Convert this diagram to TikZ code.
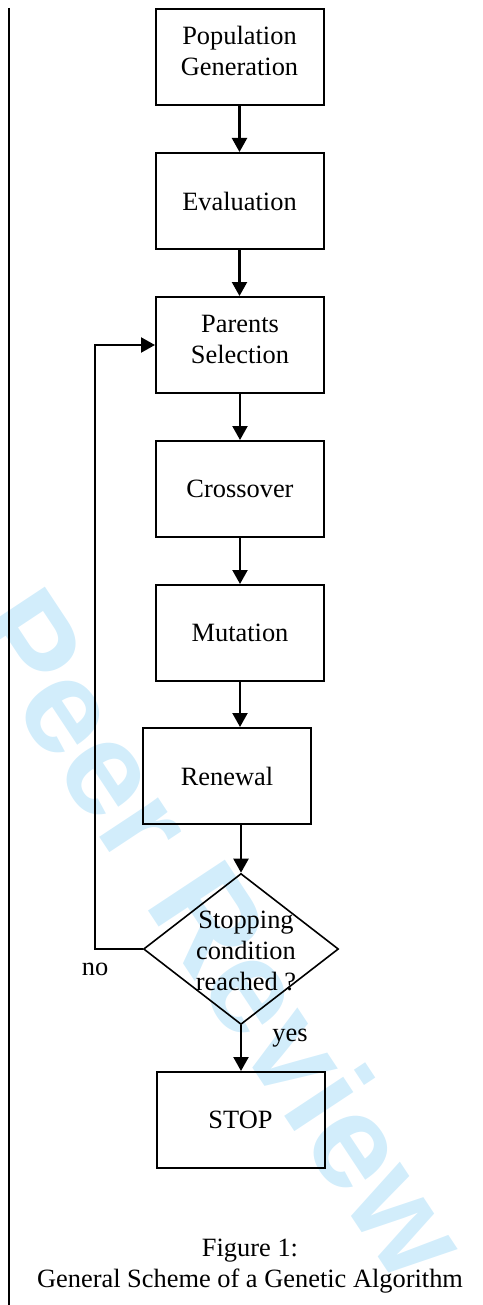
\documentclass[tikz,border=0pt]{standalone}
\usepackage{fontspec}
\setmainfont{Liberation Serif}
\newfontfamily\markfont{Liberation Sans}
\usetikzlibrary{arrows.meta,shapes.geometric}
\definecolor{markblue}{RGB}{210,237,251}
\tikzset{every picture/.style={line width=1pt}}
\tikzset{
  procbox/.style={draw,line width=1pt,minimum width=84pt,minimum height=48pt,inner sep=0pt,align=center,font=\fontsize{13.2}{15.5}\selectfont},
  twoline/.style={text depth=6pt},
  decision/.style={draw,diamond,line width=0.8pt,minimum width=97.5pt,minimum height=75.5pt,inner sep=0pt},
  flowline/.style={line width=1.1pt,-{Triangle[length=7pt,width=7.5pt]}},
  plainlabel/.style={inner sep=0pt,align=center,font=\fontsize{13.2}{15.5}\selectfont}
}
\begin{document}
\begin{tikzpicture}[x=0.5pt,y=0.5pt,yscale=-1,xscale=1]
\useasboundingbox (0,0) rectangle (482,1305);

%Watermark
\begin{scope}
\clip (0,0) rectangle (482,1305);
\node (review) [rotate=-56.5,text=markblue,inner sep=0pt,font=\markfont\bfseries\fontsize{67}{67}\selectfont] at (221,933) {Peer Review};
\end{scope}

%Straight Lines: margin rule
\draw [line width=1pt] (9,8) -- (9,1305);

%Shape: Rectangle
\node [procbox,twoline] (popgen) at (239.5,57) {Population\\Generation};
%Shape: Rectangle
\node [procbox] (evaluation) at (239.5,201) {Evaluation};
%Shape: Rectangle
\node [procbox,twoline] (parents) at (240,345) {Parents\\Selection};
%Shape: Rectangle
\node [procbox] (crossover) at (240,489) {Crossover};
%Shape: Rectangle
\node [procbox] (mutation) at (240,633) {Mutation};
%Shape: Rectangle
\node [procbox] (renewal) at (227,776) {Renewal};
%Shape: Diamond
\node [decision] (stopq) at (241,949) {};
\node [plainlabel] (stoptext) at (246,951) {Stopping\\condition\\reached ?};
%Shape: Rectangle
\node [procbox] (stop) at (240.5,1120) {STOP};

%Straight Lines
\draw [flowline] (popgen) -- (evaluation);
\draw [flowline] (evaluation.south) -- (evaluation.south |- parents.north);
\draw [flowline] (parents) -- (crossover);
\draw [flowline] (crossover) -- (mutation);
\draw [flowline] (mutation.south) -- (mutation.south |- renewal.north);
\draw [flowline] (renewal.south -| stopq.north) -- (stopq.north);
\draw [flowline] (stopq.south) -- (stopq.south |- stop.north);
%Straight Lines: loop back
\coordinate (loopcorner) at (95,949);
\draw [flowline] (stopq.west) -- (loopcorner) |- (parents.west);

% Text Node
\node [plainlabel] (nolabel) at (95,969) {no};
% Text Node
\node [plainlabel] (yeslabel) at (290,1038) {yes};
% Text Node
\node [plainlabel] (caption) at (250,1266) {Figure 1:\\General Scheme of a Genetic Algorithm};

\end{tikzpicture}
\end{document}
